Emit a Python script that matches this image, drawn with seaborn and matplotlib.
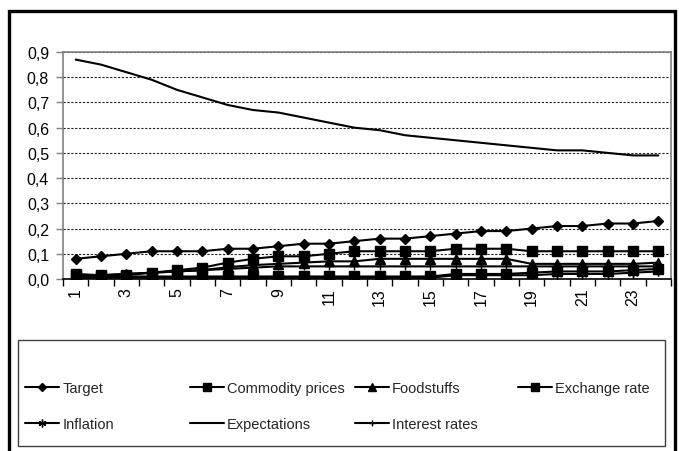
import matplotlib
matplotlib.use("Agg")
import matplotlib.pyplot as plt
import seaborn as sns
import numpy as np
from matplotlib.patches import Rectangle
from matplotlib.ticker import FuncFormatter

# ---- data ----
periods = list(range(1, 25))
target = [0.08, 0.09, 0.10, 0.11, 0.11, 0.11, 0.12, 0.12, 0.13, 0.14, 0.14, 0.15,
          0.16, 0.16, 0.17, 0.18, 0.19, 0.19, 0.20, 0.21, 0.21, 0.22, 0.22, 0.23]
commodity_prices = [0.015, 0.01, 0.01, 0.01, 0.01, 0.01, 0.01, 0.01, 0.01, 0.01, 0.01, 0.01,
                    0.01, 0.01, 0.01, 0.02, 0.02, 0.02, 0.025, 0.03, 0.03, 0.03, 0.035, 0.04]
foodstuffs = [0.01, 0.015, 0.02, 0.025, 0.03, 0.035, 0.047, 0.055, 0.06, 0.065, 0.07, 0.07,
              0.08, 0.08, 0.08, 0.08, 0.08, 0.08, 0.06, 0.06, 0.06, 0.06, 0.06, 0.065]
exchange_rate = [0.02, 0.015, 0.015, 0.025, 0.035, 0.045, 0.065, 0.08, 0.09, 0.09, 0.10, 0.11,
                 0.11, 0.11, 0.11, 0.12, 0.12, 0.12, 0.11, 0.11, 0.11, 0.11, 0.11, 0.11]
inflation = [0.005, 0.005, 0.005, 0.005, 0.005, 0.005, 0.005, 0.005, 0.005, 0.005, 0.005, 0.005,
             0.005, 0.005, 0.005, 0.015, 0.015, 0.015, 0.015, 0.02, 0.02, 0.02, 0.025, 0.03]
expectations = [0.87, 0.85, 0.82, 0.79, 0.75, 0.72, 0.69, 0.67, 0.66, 0.64, 0.62, 0.60,
                0.59, 0.57, 0.56, 0.55, 0.54, 0.53, 0.52, 0.51, 0.51, 0.50, 0.49, 0.49]
interest_rates = [0.01, 0.015, 0.02, 0.025, 0.03, 0.035, 0.04, 0.045, 0.05, 0.05, 0.05, 0.05,
                  0.05, 0.05, 0.05, 0.05, 0.05, 0.05, 0.05, 0.05, 0.05, 0.05, 0.05, 0.05]
series_names = ["Target", "Commodity prices", "Foodstuffs", "Exchange rate",
                "Inflation", "Expectations", "Interest rates"]
series_values = [target, commodity_prices, foodstuffs, exchange_rate,
                 inflation, expectations, interest_rates]
x_tick_labels = [str(p) for p in periods[::2]]
y_ticks = [0.0, 0.1, 0.2, 0.3, 0.4, 0.5, 0.6, 0.7, 0.8, 0.9]

# ---- styles ----
markers = ["D", "s", "^", "s", (6, 2, 0), None, "+"]
msizes = [5.5, 7, 7, 7, 7, 0, 6]

sns.set_theme(style="white")
plt.rcParams["font.family"] = ["Liberation Sans", "DejaVu Sans"]

W, H = 679, 452
fig = plt.figure(figsize=(W / 100, H / 100), dpi=100)
ax = fig.add_axes([63 / W, 1 - 280 / H, (671 - 63) / W, (280 - 53) / H])

for name, vals, m, ms in zip(series_names, series_values, markers, msizes):
    kw = dict(color="black", linewidth=1.5, label=name)
    if m is not None:
        kw.update(marker=m, markersize=ms, markerfacecolor="black",
                  markeredgecolor="black", markeredgewidth=1.0)
    sns.lineplot(x=periods, y=vals, ax=ax, **kw)

h, l = ax.get_legend_handles_labels()
if ax.get_legend() is not None:
    ax.get_legend().remove()

ax.set_xlim(0.5, 24.5)
ax.set_ylim(0, 0.9)
ax.set_xlabel("")
ax.set_ylabel("")
ax.set_yticks(y_ticks)
ax.yaxis.set_major_formatter(FuncFormatter(lambda v, p: f"{v:.1f}".replace(".", ",")))
ax.set_xticks(periods[::2])
ax.set_xticklabels(x_tick_labels, rotation=90, fontsize=11.5)
ax.set_xticks(np.arange(0.5, 25, 1), minor=True)
ax.tick_params(axis="x", which="major", length=0, pad=6)
ax.tick_params(axis="x", which="minor", length=5, width=1, direction="out",
               bottom=True, color="black")
ax.tick_params(axis="y", which="major", length=5, width=1, direction="out",
               left=True, color="#808080", pad=5, labelsize=11.5)
for t in ax.get_yticklabels() + ax.get_xticklabels():
    t.set_color("black")

ax.yaxis.grid(True, linestyle=(0, (2, 1.5)), color="#202020", linewidth=0.8)
ax.set_axisbelow(True)
for s in ["left", "top", "right"]:
    ax.spines[s].set_color("#808080")
    ax.spines[s].set_linewidth(1.2)
ax.spines["bottom"].set_color("black")
ax.spines["bottom"].set_linewidth(1.2)

# ---- legend, laid out like the reference (4 equal columns, 2 rows) ----
col_x = [25, 190, 355, 518]
row_y = [389, 425]
for i, (hh, ll) in enumerate(zip(h, l)):
    r, c = divmod(i, 4)
    fig.legend(handles=[hh], labels=[ll], loc="center left",
               bbox_to_anchor=(col_x[c] / W, 1 - row_y[r] / H),
               frameon=False, borderpad=0, borderaxespad=0,
               handlelength=2.3, handletextpad=0.25, fontsize=10.5,
               markerscale=0.8)

fig.patches.append(Rectangle((18 / W, 1 - 447 / H), (665 - 18) / W, (447 - 341) / H,
                             transform=fig.transFigure, fill=False,
                             edgecolor="#404040", linewidth=1.0))
# outer chart frame
fig.patches.append(Rectangle((8.5 / W, -0.02), (675 - 8.5) / W, 1.02 - 11.5 / H,
                             transform=fig.transFigure, fill=False,
                             edgecolor="black", linewidth=2.4))

fig.savefig("out.png", dpi=100)
